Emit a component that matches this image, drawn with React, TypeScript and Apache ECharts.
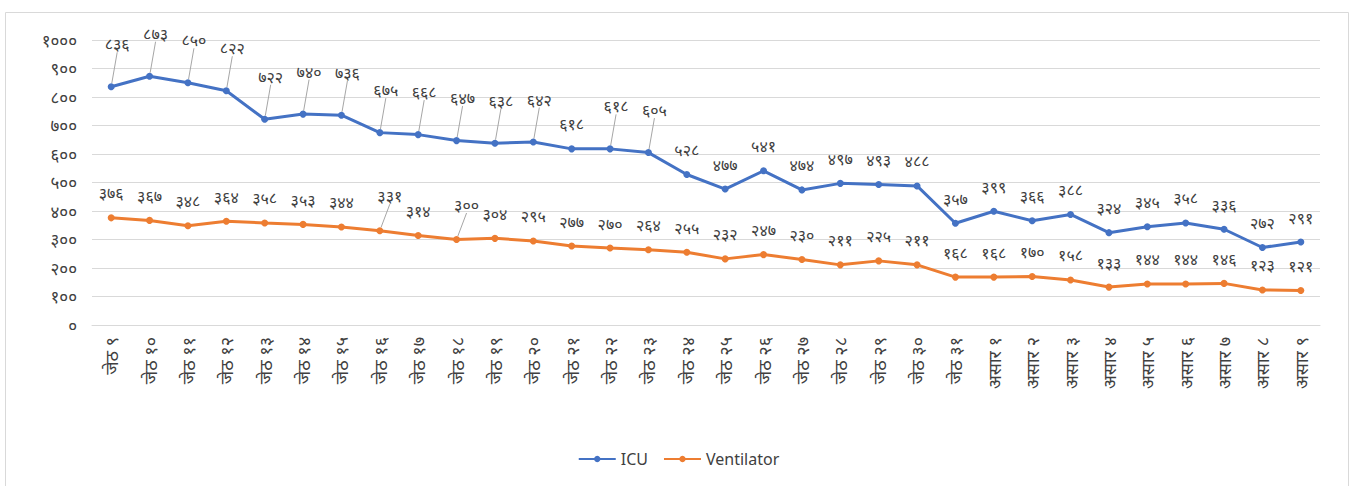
import React, { useEffect, useRef } from "react";
import * as echarts from "echarts";

const categories: string[] = [
  "जेठ ९", "जेठ १०", "जेठ ११", "जेठ १२", "जेठ १३", "जेठ १४", "जेठ १५", "जेठ १६",
  "जेठ १७", "जेठ १८", "जेठ १९", "जेठ २०", "जेठ २१", "जेठ २२", "जेठ २३", "जेठ २४",
  "जेठ २५", "जेठ २६", "जेठ २७", "जेठ २८", "जेठ २९", "जेठ ३०", "जेठ ३१",
  "असार १", "असार २", "असार ३", "असार ४", "असार ५", "असार ६", "असार ७", "असार ८", "असार ९",
];

const icu: number[] = [
  836, 873, 850, 822, 722, 740, 736, 675, 668, 647, 638, 642, 618, 618, 605, 528,
  477, 541, 474, 497, 493, 488, 357, 399, 366, 388, 324, 345, 358, 336, 272, 291,
];

const ventilator: number[] = [
  376, 367, 348, 364, 358, 353, 344, 331, 314, 300, 304, 295, 277, 270, 264, 255,
  232, 247, 230, 211, 225, 211, 168, 168, 170, 158, 133, 144, 144, 146, 123, 121,
];

const NEP = "०१२३४५६७८९";
const toNep = (v: number | string) => String(v).replace(/\d/g, (d) => NEP[Number(d)]);

const FONT = "'Noto Sans', 'DejaVu Sans', sans-serif";

const icuLeader = (i: number) => i < 15 && i !== 12;
const ventLeader = (i: number) => i === 7 || i === 9;

export default function App() {
  const ref = useRef<HTMLDivElement>(null);
  useEffect(() => {
    document.body.style.margin = "0";
    if (!ref.current) return;
    const chart = echarts.init(ref.current, undefined, { renderer: "svg" });
    const labelBase = {
      show: true,
      position: "top",
      distance: 5,
      color: "#404040",
      fontSize: 16,
      fontFamily: FONT,
      formatter: (p: any) => toNep(p.value),
    };
    chart.setOption({
      animation: false,
      backgroundColor: "#ffffff",
      textStyle: { fontFamily: FONT },
      graphic: [
        {
          type: "rect",
          shape: { x: 5.5, y: 12.5, width: 1343, height: 490 },
          style: { fill: "none", stroke: "#d9d9d9", lineWidth: 1 },
          silent: true,
        },
      ],
      grid: { left: 92, right: 37, top: 40, bottom: 161 },
      legend: {
        bottom: 14,
        left: "center",
        itemWidth: 37,
        itemHeight: 8,
        itemGap: 15,
        itemTextGap: 3,
        textStyle: { color: "#404040", fontSize: 16, fontFamily: FONT },
        data: ["ICU", "Ventilator"],
      },
      xAxis: {
        type: "category",
        data: categories,
        boundaryGap: true,
        axisLine: { show: true, lineStyle: { color: "#d9d9d9" } },
        axisTick: { show: false },
        axisLabel: {
          rotate: 90,
          interval: 0,
          color: "#404040",
          fontSize: 18,
          margin: 12,
          fontFamily: FONT,
        },
      },
      yAxis: {
        type: "value",
        min: 0,
        max: 1000,
        interval: 100,
        axisLine: { show: false },
        axisTick: { show: false },
        splitLine: { lineStyle: { color: "#d9d9d9", width: 1 } },
        axisLabel: {
          color: "#404040",
          fontSize: 17,
          margin: 15,
          fontFamily: FONT,
          formatter: (v: number) => toNep(v),
        },
      },
      series: [
        {
          name: "ICU",
          type: "line",
          data: icu.map((v, i) => ({ value: v, labelLine: { show: icuLeader(i) } })),
          color: "#4472C4",
          symbol: "circle",
          symbolSize: 7,
          lineStyle: { width: 3, color: "#4472C4" },
          itemStyle: { color: "#4472C4" },
          label: labelBase,
          labelLine: { show: false, lineStyle: { color: "#a6a6a6", width: 1 } },
          labelLayout: (p: any) =>
            icuLeader(p.dataIndex) ? { dx: 6, dy: -26 } : { dy: -8 },
        },
        {
          name: "Ventilator",
          type: "line",
          data: ventilator.map((v, i) => ({ value: v, labelLine: { show: ventLeader(i) } })),
          color: "#ED7D31",
          symbol: "circle",
          symbolSize: 7,
          lineStyle: { width: 3, color: "#ED7D31" },
          itemStyle: { color: "#ED7D31" },
          label: labelBase,
          labelLine: { show: false, lineStyle: { color: "#a6a6a6", width: 1 } },
          labelLayout: (p: any) =>
            ventLeader(p.dataIndex) ? { dx: 10, dy: -18 } : { dy: -8 },
        },
      ],
    });
    return () => chart.dispose();
  }, []);
  return <div ref={ref} style={{ width: 1357, height: 486 }} />;
}
